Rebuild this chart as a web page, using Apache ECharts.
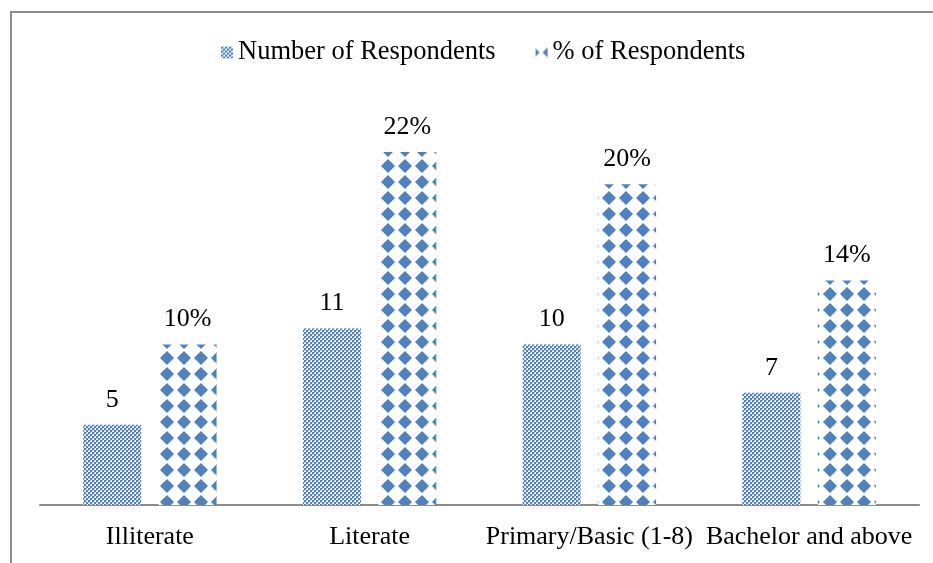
<!DOCTYPE html>
<html><head><meta charset="utf-8">
<script src="https://cdn.jsdelivr.net/npm/echarts@6/dist/echarts.min.js"></script>
<style>html,body{margin:0;padding:0;background:#fff}#c{width:933px;height:563px}</style>
</head><body><div id="c"></div>
<script>
const categories = ['Illiterate', 'Literate', 'Primary/Basic (1-8)', 'Bachelor and above'];
const numberOfRespondents = [5, 11, 10, 7];
const percentOfRespondents = [10, 22, 20, 14];
const seriesNames = ['Number of Respondents', '% of Respondents'];

const BLUE = '#4f81bd';
function checkerPattern() {
  const c = document.createElement('canvas');
  c.width = 4; c.height = 4;
  const g = c.getContext('2d');
  g.fillStyle = '#ffffff'; g.fillRect(0, 0, 4, 4);
  g.fillStyle = BLUE;
  g.fillRect(0, 0, 2, 2); g.fillRect(2, 2, 2, 2);
  g.fillStyle = '#9fb9db';
  g.fillRect(2, 0, 1, 1); g.fillRect(0, 2, 1, 1);
  return c;
}
function diamondPattern() {
  const c = document.createElement('canvas');
  c.width = 17; c.height = 16;
  const g = c.getContext('2d');
  g.fillStyle = '#ffffff'; g.fillRect(0, 0, 17, 16);
  g.fillStyle = BLUE;
  const cx = 14, cy = 6, r = 7;
  for (const dx of [-17, 0, 17]) for (const dy of [-16, 0, 16]) {
    g.beginPath();
    g.moveTo(cx + dx, cy + dy - r);
    g.lineTo(cx + dx + r, cy + dy);
    g.lineTo(cx + dx, cy + dy + r);
    g.lineTo(cx + dx - r, cy + dy);
    g.closePath(); g.fill();
    g.beginPath();
    g.arc(cx + dx, cy + dy, 4.6, 0, Math.PI * 2);
    g.fill();
  }
  return c;
}
const pat1 = { image: checkerPattern(), repeat: 'repeat' };
const pat2 = { image: diamondPattern(), repeat: 'repeat' };

const font = '"Liberation Serif", "Times New Roman", serif';
const chart = echarts.init(document.getElementById('c'), null, { renderer: 'canvas' });
chart.setOption({
  animation: false,
  graphic: [{
    type: 'rect', shape: { x: 11, y: 12, width: 940, height: 600 },
    style: { fill: 'none', stroke: '#8c8c8c', lineWidth: 2 }, silent: true, z: -1
  }],
  legend: {
    top: 34, left: 216, itemGap: 40, itemWidth: 12, itemHeight: 12,
    textStyle: { fontFamily: font, fontSize: 26.5, color: '#000' },
    data: [
      { name: seriesNames[0], icon: 'rect', itemStyle: { color: pat1 } },
      { name: seriesNames[1], icon: 'rect', itemStyle: { color: pat2 } }
    ]
  },
  grid: { left: 40, right: 14, top: 120, bottom: 58 },
  xAxis: {
    type: 'category', data: categories,
    axisLine: { lineStyle: { color: '#8c8c8c', width: 2 } },
    axisTick: { show: false },
    axisLabel: { fontFamily: font, fontSize: 26, color: '#000', margin: 19, interval: 0 }
  },
  yAxis: { type: 'value', min: 0, max: 24, show: false, splitLine: { show: false } },
  series: [
    {
      name: seriesNames[0], type: 'bar', data: numberOfRespondents,
      barWidth: 58, barGap: '30%',
      itemStyle: { color: pat1 },
      label: { show: true, position: 'top', distance: 12, fontFamily: font, fontSize: 26, color: '#000' }
    },
    {
      name: seriesNames[1], type: 'bar', data: percentOfRespondents,
      barWidth: 58,
      itemStyle: { color: pat2 },
      label: { show: true, position: 'top', distance: 12, fontFamily: font, fontSize: 26, color: '#000', formatter: '{c}%' }
    }
  ]
});
</script></body></html>
